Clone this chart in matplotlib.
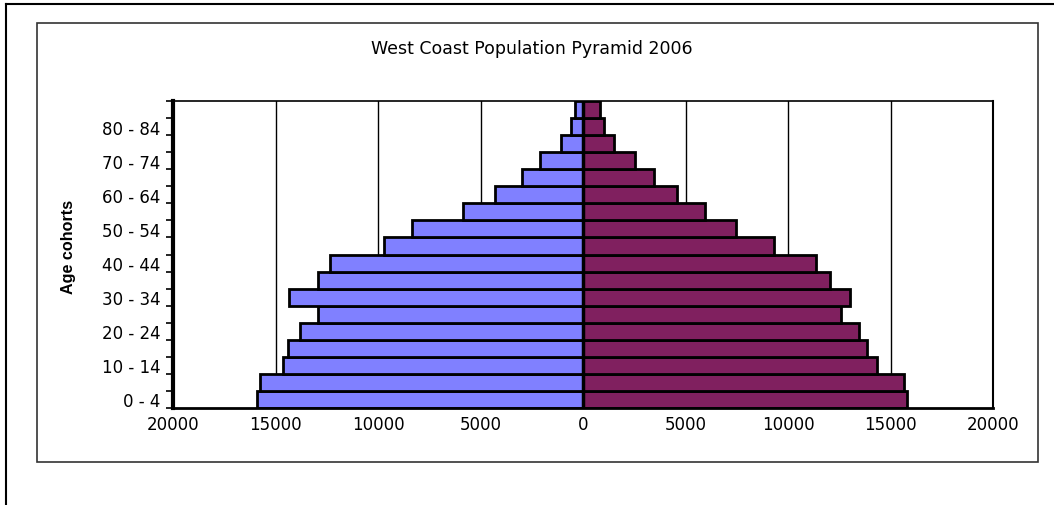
import numpy as np
import matplotlib.pyplot as plt
from matplotlib.lines import Line2D
from matplotlib.patches import Rectangle
from matplotlib.ticker import FixedLocator, FuncFormatter

# age cohorts, bottom to top
cohorts = ["0 - 4", "5 - 9", "10 - 14", "15 - 19", "20 - 24", "25 - 29",
           "30 - 34", "35 - 39", "40 - 44", "45 - 49", "50 - 54", "55 - 59",
           "60 - 64", "65 - 69", "70 - 74", "75 - 79", "80 - 84", "85+"]
males = [15900, 15760, 14620, 14370, 13790, 12940, 14320, 12940, 12320,
         9700, 8340, 5850, 4290, 2970, 2100, 1070, 600, 390]
females = [15800, 15670, 14340, 13850, 13480, 12590, 13010, 12060, 11350,
           9330, 7480, 5950, 4590, 3450, 2540, 1530, 1010, 830]
xticks = [-20000, -15000, -10000, -5000, 0, 5000, 10000, 15000, 20000]

male_col = "#8080ff"
female_col = "#80205f"

fig = plt.figure(figsize=(10.54, 5.06), dpi=100)
plt.rcParams['font.family'] = ['DejaVu Sans']

# frames around the chart
fig.add_artist(Line2D([6 / 1054, 1.0], [1 - 5 / 506, 1 - 5 / 506], color="black", lw=1.5))
fig.add_artist(Line2D([6 / 1054, 6 / 1054], [0.0, 1 - 5 / 506], color="black", lw=1.5))
fig.add_artist(Rectangle((37 / 1054, 1 - 463 / 506), 1001 / 1054, 439 / 506,
                         fill=False, edgecolor="#333333", lw=1.2))

ax = fig.add_axes([173 / 1054, 97 / 506, 820 / 1054, 307 / 506])
y = np.arange(len(cohorts))

for gx in xticks[1:-1]:
    if gx != 0:
        ax.axvline(gx, color="black", lw=1.0, zorder=0)

ax.barh(y, -np.array(males), height=1.0, color=male_col, edgecolor="black", lw=2, zorder=2)
ax.barh(y, females, height=1.0, color=female_col, edgecolor="black", lw=2, zorder=2)
ax.axvline(0, color="black", lw=2.5, zorder=3)

ax.set_xlim(-20000, 20000)
ax.set_ylim(-0.5, len(cohorts) - 0.5)
ax.set_xticks(xticks)
ax.xaxis.set_major_formatter(FuncFormatter(lambda v, p: "%d" % abs(v)))
ax.tick_params(axis="x", length=0, pad=5, labelsize=12)

ax.yaxis.set_major_locator(FixedLocator(y[::2]))
ax.set_yticklabels(cohorts[::2])
ax.yaxis.set_minor_locator(FixedLocator(np.arange(-0.5, len(cohorts), 1.0)))
ax.tick_params(axis="y", which="major", length=0, pad=9, labelsize=12)
ax.tick_params(axis="y", which="minor", length=5, width=1.2)

ax.spines["left"].set_linewidth(3)
ax.spines["bottom"].set_linewidth(2)
ax.spines["right"].set_linewidth(1.5)
ax.spines["top"].set_linewidth(1.2)

fig.text(68.5 / 1054, 1 - 247 / 506, "Age cohorts", rotation=90, ha="center",
         va="center", fontsize=11.6, fontweight="bold", family="Liberation Sans")
fig.text(532 / 1054, 1 - 49 / 506, "West Coast Population Pyramid 2006",
         ha="center", va="center", fontsize=12.5)

fig.savefig("out.png", dpi=100)
